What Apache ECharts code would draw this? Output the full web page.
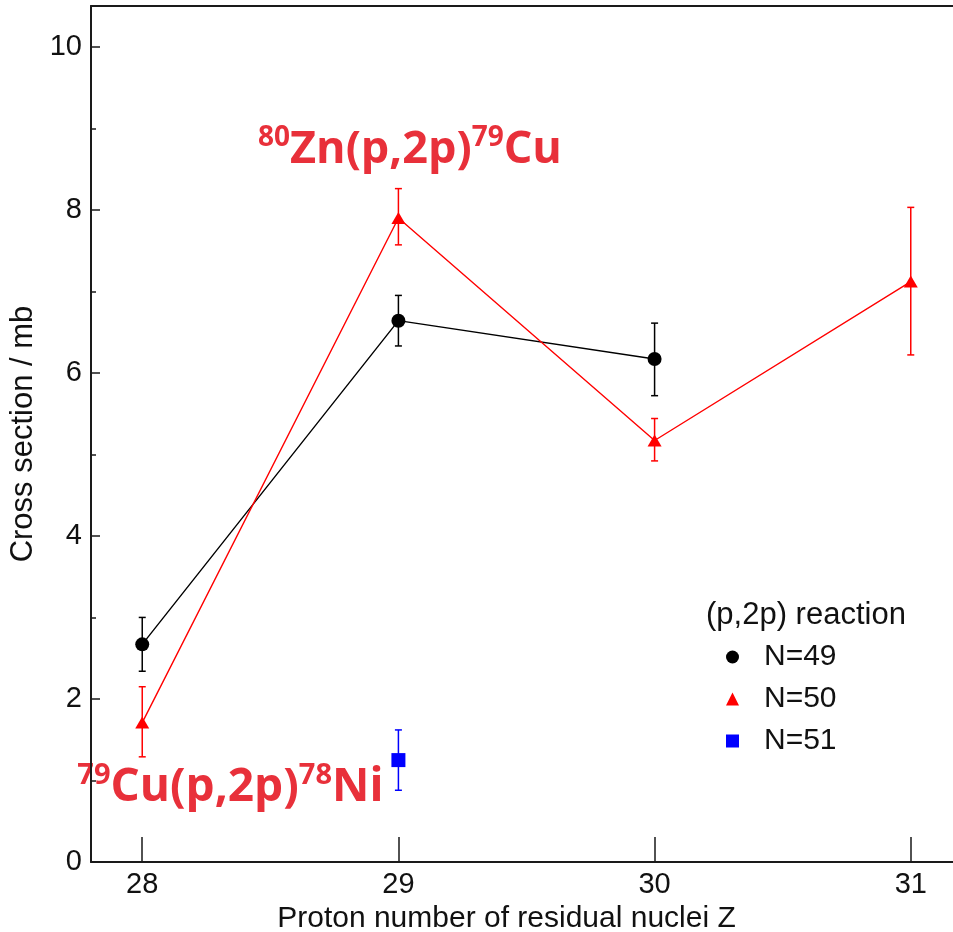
<!DOCTYPE html>
<html>
<head>
<meta charset="utf-8">
<script src="https://cdn.jsdelivr.net/npm/echarts@6/dist/echarts.min.js"></script>
<style>
html,body{margin:0;padding:0;background:#fff;}
#chart{width:953px;height:932px;}
</style>
</head>
<body>
<div id="chart"></div>
<script>
// ---- data ----
const xTicks = [28, 29, 30, 31];
const yTicks = [0, 2, 4, 6, 8, 10];
const yMinorTicks = [1, 3, 5, 7, 9];

const seriesNames = ['N=49', 'N=50', 'N=51'];
const legendTitle = '(p,2p) reaction';
const xAxisName = 'Proton number of residual nuclei Z';
const yAxisName = 'Cross section / mb';

const z49 = [28, 29, 30];
const cs49 = [2.67, 6.64, 6.17];
const lo49 = [2.34, 6.33, 5.72];
const hi49 = [3.00, 6.95, 6.61];

const z50 = [28, 29, 30, 31];
const cs50 = [1.71, 7.90, 5.17, 7.12];
const lo50 = [1.29, 7.57, 4.92, 6.22];
const hi50 = [2.15, 8.26, 5.44, 8.03];

const z51 = [29];
const cs51 = [1.25];
const lo51 = [0.88];
const hi51 = [1.62];

const annotation1 = ['80', 'Zn(p,2p)', '79', 'Cu'];
const annotation2 = ['79', 'Cu(p,2p)', '78', 'Ni'];

// ---- helpers ----
const pairs = (xs, ys) => xs.map((x, i) => [x, ys[i]]);
const triples = (xs, a, b) => xs.map((x, i) => [x, a[i], b[i]]);

function errorBar(color) {
  return function (params, api) {
    const x = api.value(0), lo = api.value(1), hi = api.value(2);
    const pL = api.coord([x, lo]);
    const pH = api.coord([x, hi]);
    const hw = 3.5;
    const style = { stroke: color, lineWidth: 1.5, fill: null };
    return {
      type: 'group',
      children: [
        { type: 'line', shape: { x1: pL[0], y1: pL[1], x2: pH[0], y2: pH[1] }, style: style },
        { type: 'line', shape: { x1: pL[0] - hw, y1: pL[1], x2: pL[0] + hw, y2: pL[1] }, style: style },
        { type: 'line', shape: { x1: pH[0] - hw, y1: pH[1], x2: pH[0] + hw, y2: pH[1] }, style: style }
      ]
    };
  };
}

const RED = '#ff0000', BLACK = '#000000', BLUE = '#0000ff';
const ANN = '#e8303a';
const FONT = '"Liberation Sans", Arial, Helvetica, sans-serif';
const AFONT = '"Open Sans", "Noto Sans", sans-serif';

function annLabel(parts, mainSize, supSize, mainLH, supLH) {
  return {
    show: true,
    position: 'inside',
    opacity: 1,
    formatter: '{s|' + parts[0] + '}{m|' + parts[1] + '}{s|' + parts[2] + '}{m|' + parts[3] + '}',
    rich: {
      s: { fontFamily: AFONT, fontWeight: 'bold', fontSize: supSize, color: ANN, lineHeight: supLH, verticalAlign: 'top' },
      m: { fontFamily: AFONT, fontWeight: 'bold', fontSize: mainSize, color: ANN, lineHeight: mainLH }
    }
  };
}

const chart = echarts.init(document.getElementById('chart'), null, { renderer: 'canvas' });

const axisLineStyle = { color: '#1a1a1a', width: 2 };

chart.setOption({
  backgroundColor: '#ffffff',
  animation: false,
  grid: { left: 91, right: -9, top: 6, bottom: 70, containLabel: false, outerBoundsMode: 'none' },
  title: {
    text: legendTitle, left: 706, top: 600, padding: 0,
    textStyle: { fontFamily: FONT, fontSize: 31, fontWeight: 'normal', color: '#111' }
  },
  legend: {
    orient: 'vertical', left: 726, top: 642, padding: 0,
    itemWidth: 13, itemHeight: 13, itemGap: 12,
    data: [
      { name: seriesNames[0], icon: 'circle' },
      { name: seriesNames[1], icon: 'triangle' },
      { name: seriesNames[2], icon: 'rect' }
    ],
    formatter: '{t|{name}}',
    textStyle: {
      rich: { t: { fontFamily: FONT, fontSize: 30, color: '#111', padding: [0, 0, 0, 20], lineHeight: 30 } }
    }
  },
  xAxis: [{
    type: 'value', min: 27.8, max: 31.2, position: 'bottom',
    axisLine: { show: true, onZero: false, lineStyle: axisLineStyle },
    axisTick: { show: true, inside: true, length: 25, customValues: xTicks, lineStyle: { color: '#1a1a1a', width: 1.5 } },
    axisLabel: { customValues: xTicks, fontFamily: FONT, fontSize: 29, color: '#111', margin: 8 },
    splitLine: { show: false },
    name: xAxisName, nameLocation: 'middle', nameGap: 28,
    nameTextStyle: { fontFamily: FONT, fontSize: 30, color: '#111', padding: [0, 40, 0, 0] }
  }, {
    type: 'value', min: 27.8, max: 31.2, position: 'top',
    axisLine: { show: true, onZero: false, lineStyle: axisLineStyle },
    axisTick: { show: false }, axisLabel: { show: false }, splitLine: { show: false }
  }],
  yAxis: [{
    type: 'value', min: 0, max: 10.5, position: 'left', z: 10,
    axisLine: { show: true, onZero: false, lineStyle: axisLineStyle },
    axisTick: { show: true, inside: true, length: 9, customValues: yTicks, lineStyle: { color: '#1a1a1a', width: 1.5 } },
    axisLabel: { customValues: yTicks, fontFamily: FONT, fontSize: 29, color: '#111', margin: 9 },
    splitLine: { show: false },
    name: yAxisName, nameLocation: 'middle', nameGap: 52, nameRotate: 90,
    nameTextStyle: { fontFamily: FONT, fontSize: 31, color: '#111' }
  }, {
    type: 'value', min: 0, max: 10.5, position: 'left', offset: 0, z: 10,
    axisLine: { show: false },
    axisTick: { show: true, inside: true, length: 5, customValues: yMinorTicks, lineStyle: { color: '#1a1a1a', width: 1.5 } },
    axisLabel: { show: false }, splitLine: { show: false }
  }],
  series: [
    {
      name: 'ann', type: 'scatter', symbolSize: 0, silent: true, z: 1,
      itemStyle: { opacity: 1 },
      data: [[29.045, 8.73]],
      label: annLabel(annotation1, 45, 28, 52, 27)
    },
    {
      name: 'ann2', type: 'scatter', symbolSize: 0, silent: true, z: 1,
      itemStyle: { opacity: 1 },
      data: [[28.344, 0.91]],
      label: annLabel(annotation2, 46, 29, 54, 31)
    },
    {
      name: 'err49', type: 'custom', renderItem: errorBar(BLACK), data: triples(z49, lo49, hi49), z: 3
    },
    {
      name: 'err50', type: 'custom', renderItem: errorBar(RED), data: triples(z50, lo50, hi50), z: 3
    },
    {
      name: 'err51', type: 'custom', renderItem: errorBar(BLUE), data: triples(z51, lo51, hi51), z: 3
    },
    {
      name: seriesNames[0], type: 'line', data: pairs(z49, cs49), color: BLACK,
      symbol: 'circle', symbolSize: 14, showAllSymbol: true, z: 4,
      lineStyle: { color: BLACK, width: 1.4 }, itemStyle: { color: BLACK }
    },
    {
      name: seriesNames[1], type: 'line', data: pairs(z50, cs50), color: RED,
      symbol: 'triangle', symbolSize: [14, 12], showAllSymbol: true, z: 4,
      lineStyle: { color: RED, width: 1.4 }, itemStyle: { color: RED }
    },
    {
      name: seriesNames[2], type: 'line', data: pairs(z51, cs51), color: BLUE,
      symbol: 'rect', symbolSize: 14, showAllSymbol: true, z: 4,
      lineStyle: { color: BLUE, width: 1.4 }, itemStyle: { color: BLUE }
    }
  ]
});
</script>
</body>
</html>
